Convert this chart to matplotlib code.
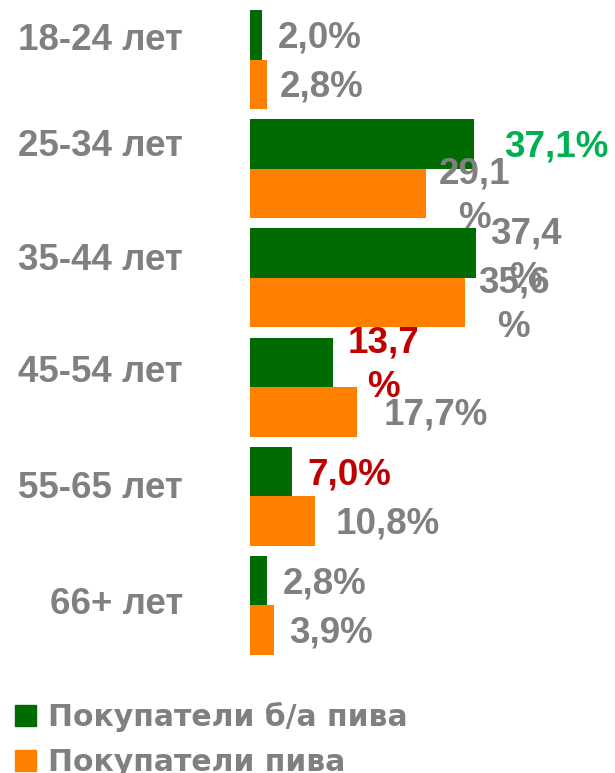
import matplotlib
matplotlib.use("Agg")
import matplotlib.pyplot as plt
from matplotlib.patches import Patch

# ----------- DATA -----------

groups = ["18-24 лет", "25-34 лет", "35-44 лет", "45-54 лет", "55-65 лет", "66+ лет"]
nonalc = [2.0, 37.1, 37.4, 13.7, 7.0, 2.8]   # Покупатели б/а пива
beer = [2.8, 29.1, 35.6, 17.7, 10.8, 3.9]    # Покупатели пива
series_names = ["Покупатели б/а пива", "Покупатели пива"]

# ----------- STYLE -----------

GREEN = "#006B00"
ORANGE = "#FF8000"
GRAY = "#808080"
RED = "#C00000"
LGREEN = "#00B050"

# label colours / wraps / extra offsets (pixels) per bar
nonalc_colors = [GRAY, LGREEN, GRAY, RED, RED, GRAY]
beer_colors = [GRAY] * 6
nonalc_wrap = [False, False, True, True, False, False]
beer_wrap = [False, True, True, False, False, False]
nonalc_off = [16, 30, 14, 15, 15, 16]
beer_off = [13, 13, 13, 27, 20, 16]

# vertical centres (pixels from top) of the category labels
cat_y_px = [41, 146, 260, 373, 489, 605]

W, H = 615, 773
PX_PER_PCT = 6.04
BAR_H = 0.453


def fmt(v, wrap):
    s = f"{v:.1f}".replace(".", ",")
    return s + ("\n%" if wrap else "%")


fig = plt.figure(figsize=(W / 100, H / 100), dpi=100)
ax = fig.add_axes([250 / W, 113 / H, 365 / W, 655 / H])
ax.set_xlim(0, 365 / PX_PER_PCT)
ax.set_ylim(len(groups) - 0.5, -0.5)
ax.axis("off")

ys = list(range(len(groups)))
ax.barh([y - BAR_H / 2 for y in ys], nonalc, height=BAR_H, color=GREEN, linewidth=0)
ax.barh([y + BAR_H / 2 for y in ys], beer, height=BAR_H, color=ORANGE, linewidth=0)

font = dict(family="Liberation Sans", weight="bold", fontsize=26.5)

for i, y in enumerate(ys):
    ax.annotate(fmt(nonalc[i], nonalc_wrap[i]), (nonalc[i], y - BAR_H / 2),
                xytext=(nonalc_off[i], -3), textcoords="offset pixels",
                ha="left", va="center", multialignment="center",
                linespacing=1.35, color=nonalc_colors[i], **font)
    ax.annotate(fmt(beer[i], beer_wrap[i]), (beer[i], y + BAR_H / 2),
                xytext=(beer_off[i], -3), textcoords="offset pixels",
                ha="left", va="center", multialignment="center",
                linespacing=1.35, color=beer_colors[i], **font)

for g, ypx in zip(groups, cat_y_px):
    fig.text(183 / W, 1 - ypx / H, g, ha="right", va="center", color=GRAY, **font)

handles = [Patch(color=GREEN), Patch(color=ORANGE)]
fig.legend(handles, series_names, loc="lower left", bbox_to_anchor=(3 / W, -16 / H),
           frameon=False, handlelength=0.72, handleheight=0.72, handletextpad=0.4,
           labelspacing=0.53, borderaxespad=0,
           prop=dict(family="DejaVu Sans", weight="bold", size=21.5), labelcolor=GRAY)

fig.savefig("out.png", dpi=100)
